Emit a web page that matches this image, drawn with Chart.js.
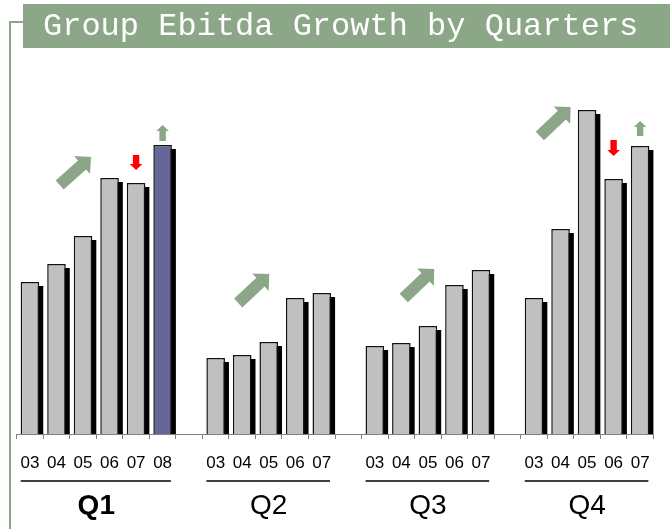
<!DOCTYPE html>
<html>
<head>
<meta charset="utf-8">
<script src="https://cdn.jsdelivr.net/npm/chart.js@4.4.1/dist/chart.umd.min.js"></script>
<style>
  html, body { margin: 0; padding: 0; background: #ffffff; }
  #wrap { width: 670px; height: 529px; }
</style>
</head>
<body>
<div id="wrap"><canvas id="c" width="670" height="529"></canvas></div>
<script>
// ---- data ----
const chartTitle = 'Group Ebitda Growth by Quarters';
const quarters = ['Q1', 'Q2', 'Q3', 'Q4'];
const q1Years = ['03', '04', '05', '06', '07', '08'];
const q2Years = ['03', '04', '05', '06', '07'];
const q3Years = ['03', '04', '05', '06', '07'];
const q4Years = ['03', '04', '05', '06', '07'];
const q1Values = [152, 170, 198, 256, 251, 289];
const q2Values = [76, 79, 92, 136, 141];
const q3Values = [88, 91, 108, 149, 164];
const q4Values = [136, 205, 324, 255, 288];
const highlightQuarter = 'Q1';
const highlightYear = '08';
// trend arrows: [category position, value] for tail and tip
const trendArrows = [
  { from: [1.12, 249], to: [2.30, 277] },
  { from: [7.85, 131], to: [9.02, 160] },
  { from: [14.09, 136], to: [15.24, 165] },
  { from: [19.22, 298], to: [20.38, 327] }
];
// change marks over single bars: tail value -> tip value
const changeMarks = [
  { quarter: 'Q1', year: '07', from: 279, to: 264 },
  { quarter: 'Q1', year: '08', from: 293, to: 309 },
  { quarter: 'Q4', year: '06', from: 294, to: 278 },
  { quarter: 'Q4', year: '07', from: 298, to: 313 }
];
const yMax = 374;

// ---- build category table ----
const groups = [
  { name: quarters[0], years: q1Years, values: q1Values },
  { name: quarters[1], years: q2Years, values: q2Values },
  { name: quarters[2], years: q3Years, values: q3Values },
  { name: quarters[3], years: q4Years, values: q4Values }
];
const labels = [], values = [], groupRanges = [];
groups.forEach((g, gi) => {
  if (gi > 0) { labels.push(''); values.push(null); }
  const start = labels.length;
  g.years.forEach((y, i) => { labels.push(y); values.push(g.values[i]); });
  groupRanges.push({ name: g.name, start: start, end: labels.length - 1 });
});
function indexOf(q, y) {
  const r = groupRanges.find(g => g.name === q);
  const g = groups.find(g => g.name === q);
  return r.start + g.years.indexOf(y);
}
const hiIndex = indexOf(highlightQuarter, highlightYear);
const barColors = labels.map((l, i) => i === hiIndex ? '#666699' : '#C0C0C0');

const GREEN = '#8BA787';

function drawBigArrow(ctx, tx, ty, px, py) {
  const dx = px - tx, dy = py - ty, len = Math.hypot(dx, dy);
  const ux = dx / len, uy = dy / len, nx = -uy, ny = ux;
  const shaft = 6, head = 12, headLen = 12;
  const bx = px - ux * headLen, by = py - uy * headLen;
  ctx.beginPath();
  ctx.moveTo(tx + nx * shaft, ty + ny * shaft);
  ctx.lineTo(bx + nx * shaft, by + ny * shaft);
  ctx.lineTo(bx + nx * head, by + ny * head);
  ctx.lineTo(px, py);
  ctx.lineTo(bx - nx * head, by - ny * head);
  ctx.lineTo(bx - nx * shaft, by - ny * shaft);
  ctx.lineTo(tx - nx * shaft, ty - ny * shaft);
  ctx.closePath();
  ctx.fill();
}
function drawSmallArrow(ctx, x, yTail, yTip) {
  const dir = yTip > yTail ? 1 : -1;
  const headLen = 6, shaft = 3.2, head = 6.3;
  const by = yTip - dir * headLen;
  ctx.beginPath();
  ctx.moveTo(x - shaft, yTail);
  ctx.lineTo(x - shaft, by);
  ctx.lineTo(x - head, by);
  ctx.lineTo(x, yTip);
  ctx.lineTo(x + head, by);
  ctx.lineTo(x + shaft, by);
  ctx.lineTo(x + shaft, yTail);
  ctx.closePath();
  ctx.fill();
}

const decor = {
  id: 'decor',
  beforeDraw(chart) {
    const ctx = chart.ctx;
    ctx.save();
    ctx.fillStyle = '#ffffff';
    ctx.fillRect(0, 0, chart.width, chart.height);
    ctx.strokeStyle = GREEN;
    ctx.lineWidth = 2;
    ctx.beginPath();
    ctx.moveTo(10, chart.height);
    ctx.lineTo(10, 22);
    ctx.lineTo(24, 22);
    ctx.stroke();
    ctx.fillStyle = GREEN;
    ctx.fillRect(23, 4, chart.width - 23, 44);
    ctx.fillStyle = '#ffffff';
    ctx.font = '32px "Liberation Mono", "Courier New", monospace';
    ctx.textBaseline = 'alphabetic';
    ctx.textAlign = 'left';
    ctx.fillText(chartTitle, 43, 35);
    ctx.restore();
  },
  beforeDatasetsDraw(chart) {
    const ctx = chart.ctx;
    const meta = chart.getDatasetMeta(0);
    ctx.save();
    ctx.fillStyle = '#000000';
    meta.data.forEach((el, i) => {
      if (values[i] == null) return;
      const p = el.getProps(['x', 'y', 'base', 'width'], true);
      ctx.fillRect(p.x - p.width / 2 + 4, p.y + 4, p.width, p.base - p.y - 4);
    });
    ctx.restore();
  },
  afterDatasetsDraw(chart) {
    const ctx = chart.ctx;
    const xs = chart.scales.x, ys = chart.scales.y;
    const cw = xs.getPixelForValue(1) - xs.getPixelForValue(0);
    const xAt = v => xs.getPixelForValue(0) + v * cw;
    ctx.save();
    ctx.fillStyle = GREEN;
    trendArrows.forEach(a => {
      drawBigArrow(ctx, xAt(a.from[0]), ys.getPixelForValue(a.from[1]),
                   xAt(a.to[0]), ys.getPixelForValue(a.to[1]));
    });
    changeMarks.forEach(m => {
      const i = indexOf(m.quarter, m.year);
      ctx.fillStyle = m.to < m.from ? '#FF0000' : GREEN;
      drawSmallArrow(ctx, xs.getPixelForValue(i), ys.getPixelForValue(m.from), ys.getPixelForValue(m.to));
    });
    ctx.restore();
  },
  afterDraw(chart) {
    const ctx = chart.ctx;
    const xs = chart.scales.x;
    const cw = xs.getPixelForValue(1) - xs.getPixelForValue(0);
    ctx.save();
    groupRanges.forEach(g => {
      const l = xs.getPixelForValue(g.start) - cw / 2;
      const r = xs.getPixelForValue(g.end) + cw / 2;
      ctx.strokeStyle = '#000000';
      ctx.lineWidth = 1.5;
      ctx.beginPath();
      ctx.moveTo(l + 4, xs.top + 47);
      ctx.lineTo(r - 5, xs.top + 47);
      ctx.stroke();
      const bold = g.name === highlightQuarter;
      ctx.fillStyle = '#000000';
      ctx.font = (bold ? 'bold ' : '') + '28px "Liberation Sans", Arial, sans-serif';
      ctx.textAlign = 'center';
      ctx.textBaseline = 'alphabetic';
      ctx.fillText(g.name, (l + r) / 2, xs.top + 80);
    });
    ctx.restore();
  }
};

new Chart(document.getElementById('c'), {
  type: 'bar',
  data: {
    labels: labels,
    datasets: [{
      data: values,
      backgroundColor: barColors,
      borderColor: '#111111',
      borderWidth: 1.5,
      barPercentage: 0.7,
      categoryPercentage: 1.0
    }]
  },
  options: {
    responsive: false,
    devicePixelRatio: 1,
    animation: false,
    layout: { padding: { left: 16.7, right: 16.6, top: 60, bottom: 0 } },
    plugins: { legend: { display: false }, tooltip: { enabled: false }, title: { display: false } },
    scales: {
      x: {
        afterFit: s => { s.height = 95; },
        grid: { offset: true, drawOnChartArea: false, drawTicks: true, tickLength: 5, color: '#808080' },
        border: { display: true, color: '#808080', width: 1 },
        ticks: {
          padding: 14,
          color: '#000000',
          autoSkip: false,
          maxRotation: 0,
          font: { family: '"Liberation Sans Narrow", "Arial Narrow", "Liberation Sans", sans-serif', size: 17 }
        }
      },
      y: { display: false, min: 0, max: yMax }
    }
  },
  plugins: [decor]
});
</script>
</body>
</html>
